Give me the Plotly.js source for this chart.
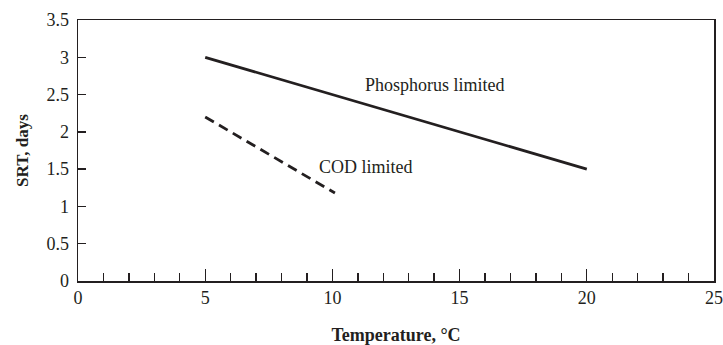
<!DOCTYPE html>
<html>
<head>
<meta charset="utf-8">
<script src="https://cdn.plot.ly/plotly-3.0.1.min.js"></script>
<style>html,body{margin:0;padding:0;background:#fff;}#chart{width:723px;height:345px;}</style>
</head>
<body>
<div id="chart"></div>
<script>
var phosphorusTemp = [5, 20];
var phosphorusSRT = [3.0, 1.5];
var codTemp = [5, 10.1];
var codSRT = [2.2, 1.18];
var xTickVals = [0, 5, 10, 15, 20, 25];
var xTickText = ['0', '5', '10', '15', '20', '25'];
var yTickVals = [0, 0.5, 1, 1.5, 2, 2.5, 3, 3.5];
var yTickText = ['0', '0.5', '1', '1.5', '2', '2.5', '3', '3.5'];
var labelText = ['Phosphorus limited', 'COD limited'];
var labelX = [14.05, 11.34];
var labelY = [2.63, 1.53];

var ink = '#231f20';
var fontFam = '"Liberation Serif", "Times New Roman", serif';

var data = [
  {x: phosphorusTemp, y: phosphorusSRT, mode: 'lines', type: 'scatter',
   line: {color: ink, width: 2.8}, hoverinfo: 'skip'},
  {x: codTemp, y: codSRT, mode: 'lines', type: 'scatter',
   line: {color: ink, width: 2.8, dash: '10px,6px'}, hoverinfo: 'skip'}
];

var annotations = labelText.map(function(t, i) {
  return {x: labelX[i], y: labelY[i], xref: 'x', yref: 'y', text: t,
          showarrow: false, font: {family: fontFam, size: 18, color: ink}};
});

var layout = {
  width: 723, height: 345,
  margin: {l: 78, r: 9, t: 20, b: 64},
  paper_bgcolor: '#fff', plot_bgcolor: '#fff',
  showlegend: false,
  font: {family: fontFam, size: 18, color: ink},
  xaxis: {
    range: [0, 25], tickvals: xTickVals, ticktext: xTickText,
    ticks: 'inside', ticklen: 12, tickwidth: 1.4, tickcolor: ink,
    minor: {dtick: 1, tick0: 0, ticks: 'inside', ticklen: 8, tickwidth: 1.4, tickcolor: ink, showgrid: false},
    showline: true, linecolor: ink, linewidth: 1.5, mirror: true,
    showgrid: false, zeroline: false,
    tickfont: {family: fontFam, size: 18, color: ink},
    title: {text: '<b>Temperature, °C</b>', font: {family: fontFam, size: 18, color: ink}, standoff: 31}
  },
  yaxis: {
    range: [0, 3.5], tickvals: yTickVals, ticktext: yTickText,
    ticks: 'inside', ticklen: 8, tickwidth: 1.4, tickcolor: ink,
    showline: true, linecolor: ink, linewidth: 1.5, mirror: true,
    showgrid: false, zeroline: false, ticklabelstandoff: 4,
    tickfont: {family: fontFam, size: 18, color: ink},
    title: {text: '<b>SRT, days</b>', font: {family: fontFam, size: 17, color: ink}, standoff: 13}
  },
  annotations: annotations
};

Plotly.newPlot('chart', data, layout, {staticPlot: true, displayModeBar: false});
</script>
</body>
</html>
